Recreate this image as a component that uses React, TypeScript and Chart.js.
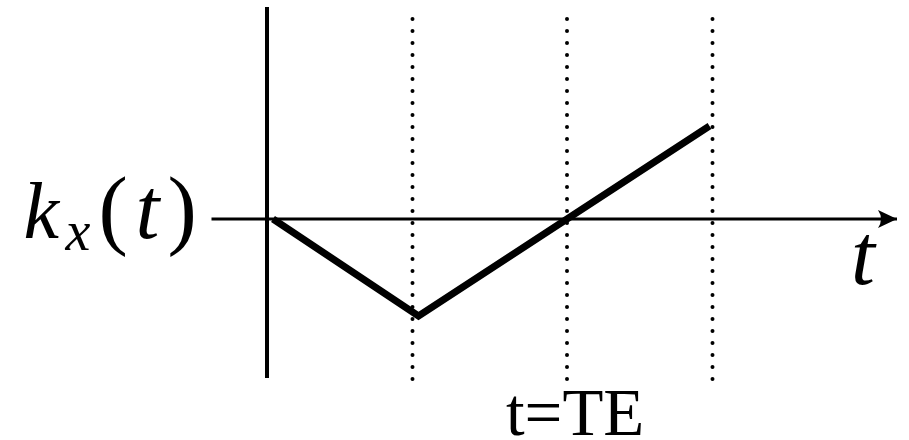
import React, { useEffect, useRef } from "react";
import { Chart, registerables } from "chart.js";

Chart.register(...registerables);

// k-space trajectory along x: ramp down, then ramp back up through zero at t = TE
const TRAJ_T = [0.04, 1.01, 2, 2.95];
const TRAJ_K = [0, -0.97, 0, 0.93];

// echo time and the dotted time markers
const TE = 2;
const MARKER_T = [0.97, 2, 2.97];
const MARKER_K = [2.0, -1.61];

// extents of the drawn axes
const T_AXIS = [-0.37, 4.2];
const K_AXIS = [-1.59, 2.12];

const T_RANGE = [-1.78, 4.28];
const K_RANGE = [-2.21, 2.19];

const SERIF = '"Liberation Serif", "Times New Roman", serif';

const labelsPlugin = {
  id: "labels",
  afterDatasetsDraw(chart: any) {
    const { ctx } = chart;
    const xs = chart.scales.x;
    const ys = chart.scales.y;
    const x0 = xs.getPixelForValue(T_AXIS[0]);
    const x1 = xs.getPixelForValue(T_AXIS[1]);
    const y0 = ys.getPixelForValue(0);

    // arrowhead on the time axis
    ctx.save();
    ctx.fillStyle = "#000";
    ctx.beginPath();
    ctx.moveTo(x1, y0);
    ctx.lineTo(x1 - 19, y0 - 9);
    ctx.quadraticCurveTo(x1 - 13, y0, x1 - 19, y0 + 9);
    ctx.closePath();
    ctx.fill();

    ctx.textBaseline = "alphabetic";
    ctx.textAlign = "left";

    // k_x(t) on the left of the axis
    const base = y0 + 19;
    ctx.font = `italic 80px ${SERIF}`;
    ctx.fillText("k", x0 - 188, base);
    ctx.font = `italic 56px ${SERIF}`;
    ctx.fillText("x", x0 - 146, base + 12);
    ctx.font = `88px ${SERIF}`;
    ctx.fillText("(", x0 - 113, base);
    ctx.font = `italic 86px ${SERIF}`;
    ctx.fillText("t", x0 - 76, base);
    ctx.font = `88px ${SERIF}`;
    ctx.fillText(")", x0 - 44, base);

    // t under the arrow
    ctx.font = `italic 86px ${SERIF}`;
    ctx.fillText("t", x1 - 46, y0 + 65);

    // echo time label
    ctx.font = `67px ${SERIF}`;
    ctx.fillText("t=TE", xs.getPixelForValue(TE) - 61, 435);
    ctx.restore();
  },
};

export default function App() {
  const ref = useRef<HTMLCanvasElement | null>(null);

  useEffect(() => {
    if (!ref.current) return;
    const markerSets = MARKER_T.map((t) => ({
      data: MARKER_K.map((k) => ({ x: t, y: k })),
      borderColor: "#000",
      borderWidth: 4,
      borderDash: [0, 12],
      borderCapStyle: "round" as const,
      pointRadius: 0,
      fill: false,
    }));
    const chart = new Chart(ref.current, {
      type: "line",
      data: {
        datasets: [
          {
            data: K_AXIS.map((k) => ({ x: 0, y: k })),
            borderColor: "#000",
            borderWidth: 4,
            pointRadius: 0,
          },
          {
            data: T_AXIS.map((t) => ({ x: t, y: 0 })),
            borderColor: "#000",
            borderWidth: 3,
            pointRadius: 0,
          },
          ...markerSets,
          {
            data: TRAJ_T.map((t, i) => ({ x: t, y: TRAJ_K[i] })),
            borderColor: "#000",
            borderWidth: 7,
            borderJoinStyle: "miter",
            borderCapStyle: "butt",
            pointRadius: 0,
            tension: 0,
          },
        ],
      },
      options: {
        animation: false,
        responsive: false,
        layout: { padding: 0 },
        plugins: { legend: { display: false }, tooltip: { enabled: false } },
        scales: {
          x: { type: "linear", min: T_RANGE[0], max: T_RANGE[1], display: false },
          y: { type: "linear", min: K_RANGE[0], max: K_RANGE[1], display: false },
        },
      },
      plugins: [labelsPlugin],
    });
    return () => chart.destroy();
  }, []);

  return (
    <div style={{ position: "fixed", left: 0, top: 0, width: 909, height: 440, background: "#fff" }}>
      <canvas ref={ref} width={909} height={440} style={{ display: "block" }} />
    </div>
  );
}
